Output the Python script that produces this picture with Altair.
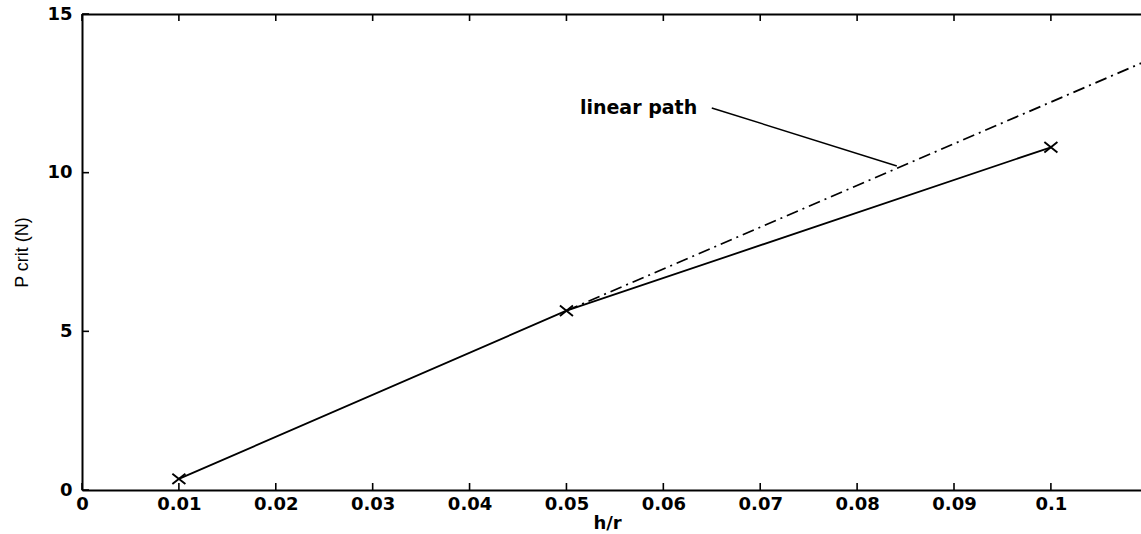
import altair as alt
import pandas as pd

# ---- data ----
hr = [0.01, 0.05, 0.1]
pcrit = [0.35, 5.65, 10.8]

lin_hr = [0.05, 0.1093]
lin_p = [5.65, 13.45]

x_ticks = [0, 0.01, 0.02, 0.03, 0.04, 0.05, 0.06, 0.07, 0.08, 0.09, 0.1]
y_ticks = [0, 5, 10, 15]

label_text = ["linear path"]
label_hr = [0.0637]
label_p = [12.04]
leader_hr = [0.0650, 0.0841]
leader_p = [12.04, 10.21]

X_MAX = 0.1093
Y_MAX = 15
W, H = 1059, 476
FONT = "DejaVu Sans"

df_main = pd.DataFrame({"hr": hr, "p": pcrit})
df_lin = pd.DataFrame({"hr": lin_hr, "p": lin_p})
df_lab = pd.DataFrame({"hr": label_hr, "p": label_p, "t": label_text})
df_lead = pd.DataFrame({"hr": leader_hr, "p": leader_p})
df_xt = pd.DataFrame({"t": x_ticks})
df_yt = pd.DataFrame({"v": y_ticks})

xscale = alt.Scale(domain=[0, X_MAX], nice=False, zero=False)
yscale = alt.Scale(domain=[0, Y_MAX], nice=False)

x_axis = alt.Axis(
    values=x_ticks, format="~g", ticks=False, tickSize=0, grid=False,
    domainColor="black", domainWidth=2,
    labelFont=FONT, labelFontSize=18, labelFontWeight="bold", labelColor="black",
    labelPadding=5, labelFlush=False,
    title="h/r", titleFont=FONT, titleFontSize=18, titleFontWeight="bold",
    titleColor="black", titleX=525, titleY=33, titleBaseline="middle", titleAlign="center",
)
y_axis = alt.Axis(
    values=y_ticks, ticks=False, tickSize=0, grid=False,
    domainColor="black", domainWidth=2,
    labelFont=FONT, labelFontSize=18, labelFontWeight="bold", labelColor="black",
    labelPadding=10, labelFlush=False,
    title="P crit (N)", titleFont="Liberation Sans", titleFontSize=18,
    titleFontWeight="normal", titleColor="black", titleAngle=270,
    titleX=-60, titleY=238, titleBaseline="middle", titleAlign="center",
)

main = alt.Chart(df_main).mark_line(color="black", strokeWidth=1.8, clip=True).encode(
    x=alt.X("hr:Q", scale=xscale, axis=x_axis),
    y=alt.Y("p:Q", scale=yscale, axis=y_axis),
)

markers = alt.Chart(df_main).mark_point(
    shape="M-1,-0.8L1,0.8M-1,0.8L1,-0.8", size=170, filled=False,
    stroke="black", strokeWidth=1.9, opacity=1,
).encode(
    x=alt.X("hr:Q", scale=xscale, axis=None),
    y=alt.Y("p:Q", scale=yscale, axis=None),
)

lin = alt.Chart(df_lin).mark_line(
    color="black", strokeWidth=1.8, strokeDash=[12, 5, 2, 5], clip=True
).encode(
    x=alt.X("hr:Q", scale=xscale, axis=None),
    y=alt.Y("p:Q", scale=yscale, axis=None),
)

lead = alt.Chart(df_lead).mark_line(color="black", strokeWidth=1.5).encode(
    x=alt.X("hr:Q", scale=xscale, axis=None),
    y=alt.Y("p:Q", scale=yscale, axis=None),
)

lab = alt.Chart(df_lab).mark_text(
    align="right", baseline="middle", font=FONT, fontSize=19,
    fontWeight="bold", color="black", dx=-2,
).encode(
    x=alt.X("hr:Q", scale=xscale, axis=None),
    y=alt.Y("p:Q", scale=yscale, axis=None),
    text="t:N",
)

# top border (secondary axis with no labels)
top = alt.Chart(df_xt).mark_point(opacity=0).encode(
    x=alt.X("t:Q", scale=xscale, axis=alt.Axis(
        orient="top", labels=False, ticks=False, grid=False, title=None,
        domainColor="black", domainWidth=2)),
    y=alt.value(0),
)

# inward tick marks
xt_bottom = alt.Chart(df_xt).mark_rule(color="black", strokeWidth=1.6).encode(
    x=alt.X("t:Q", scale=xscale, axis=None),
    y=alt.value(H), y2=alt.value(H - 7),
)
xt_top = alt.Chart(df_xt).mark_rule(color="black", strokeWidth=1.6).encode(
    x=alt.X("t:Q", scale=xscale, axis=None),
    y=alt.value(0), y2=alt.value(7),
)
yt_left = alt.Chart(df_yt).mark_rule(color="black", strokeWidth=1.6).encode(
    y=alt.Y("v:Q", scale=yscale, axis=None),
    x=alt.value(0), x2=alt.value(7),
)

chart = alt.layer(
    main, top, xt_bottom, xt_top, yt_left, lin, markers, lead, lab
).resolve_axis(x="independent", y="independent").properties(
    width=W, height=H,
    autosize=alt.AutoSizeParams(type="none"),
    padding={"left": 82, "top": 14, "right": 0, "bottom": 44},
    background="white",
).configure_view(stroke=None)

chart.save("out.html", embed_options={"renderer": "svg", "actions": False})
